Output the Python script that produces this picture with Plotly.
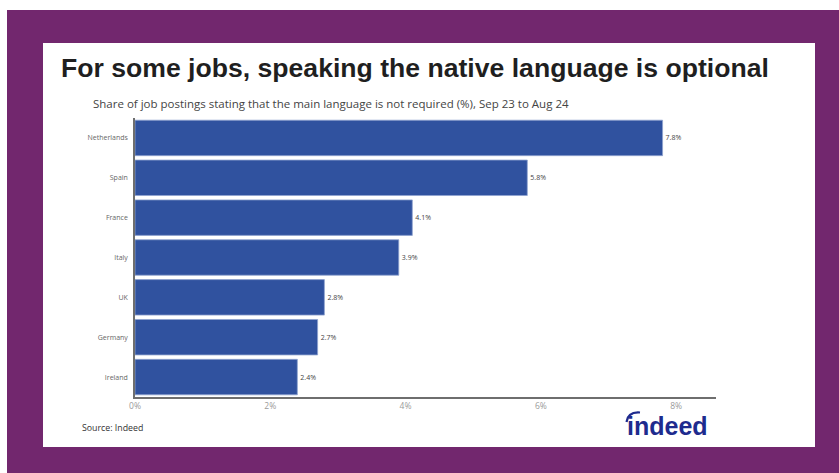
import plotly.graph_objects as go

# Data
countries = ["Netherlands", "Spain", "France", "Italy", "UK", "Germany", "Ireland"]
share_pct = [7.8, 5.8, 4.1, 3.9, 2.8, 2.7, 2.4]
tick_values = [0, 2, 4, 6, 8]
tick_labels = ["0%", "2%", "4%", "6%", "8%"]

W, H = 839, 473
ML, MR, MT, MB = 135, 123, 118, 76
PW, PH = W - ML - MR, H - MT - MB


def px(x):
    return (x - ML) / PW


def py(y):
    return (H - MB - y) / PH


PURPLE = "#72276E"
BAR = "#30529F"

fig = go.Figure(
    go.Bar(
        x=share_pct,
        y=countries,
        orientation="h",
        marker=dict(color=BAR, line=dict(color="#8fa3cf", width=0.8)),
        text=[f"{v:.1f}%" for v in share_pct],
        textposition="outside",
        textfont=dict(family="Open Sans", size=7, color="#444444"),
        cliponaxis=False,
        hoverinfo="skip",
    )
)

shapes = [
    # purple frame
    dict(type="rect", xref="paper", yref="paper", x0=px(7), x1=px(W + 5), y0=py(10), y1=py(H + 5),
         fillcolor=PURPLE, line=dict(width=0), layer="below"),
    # white card
    dict(type="rect", xref="paper", yref="paper", x0=px(43), x1=px(815), y0=py(43), y1=py(447),
         fillcolor="white", line=dict(width=0), layer="below"),
    # arc over the logo's "i"
    dict(type="path", xref="paper", yref="paper",
         path=f"M {px(626.5)} {py(422)} Q {px(628)} {py(411.5)} {px(640)} {py(412.5)}",
         line=dict(color="#1E2B8E", width=2.2), layer="above"),
]

annotations = [
    dict(text="<b>For some jobs, speaking the native language is optional</b>",
         xref="paper", yref="paper", x=px(59), y=py(68), xanchor="left", yanchor="middle",
         showarrow=False, font=dict(family="Liberation Sans", size=26.6, color="#1f1f1f")),
    dict(text="Share of job postings stating that the main language is not required (%), Sep 23 to Aug 24",
         xref="paper", yref="paper", x=px(91), y=py(104), xanchor="left", yanchor="middle",
         showarrow=False, font=dict(family="Open Sans", size=11.5, color="#444444")),
    dict(text="Source: Indeed",
         xref="paper", yref="paper", x=px(80), y=py(428), xanchor="left", yanchor="middle",
         showarrow=False, font=dict(family="Open Sans", size=8.8, color="#333333")),
    dict(text="<b>indeed</b>",
         xref="paper", yref="paper", x=px(625), y=py(425.5), xanchor="left", yanchor="middle",
         showarrow=False, font=dict(family="Liberation Sans", size=25, color="#1E2B8E")),
]

fig.update_layout(
    width=W, height=H,
    margin=dict(l=ML, r=MR, t=MT, b=MB, pad=0),
    paper_bgcolor="white",
    plot_bgcolor="rgba(0,0,0,0)",
    showlegend=False,
    bargap=0.11,
    shapes=shapes,
    annotations=annotations,
    xaxis=dict(
        range=[0, 8.59],
        tickvals=tick_values,
        ticktext=tick_labels,
        showgrid=False,
        zeroline=False,
        showline=True,
        linecolor="#6e6e6e",
        linewidth=1.5,
        ticks="",
        tickfont=dict(family="Open Sans", size=8.5, color="#9a9a9a"),
        fixedrange=True,
    ),
    yaxis=dict(
        autorange="reversed",
        showgrid=False,
        zeroline=False,
        showline=True,
        linecolor="#6e6e6e",
        linewidth=1.5,
        ticks="",
        ticklabelstandoff=4,
        tickfont=dict(family="Open Sans", size=7, color="#666666"),
        fixedrange=True,
    ),
)

fig.write_html("out.html")
